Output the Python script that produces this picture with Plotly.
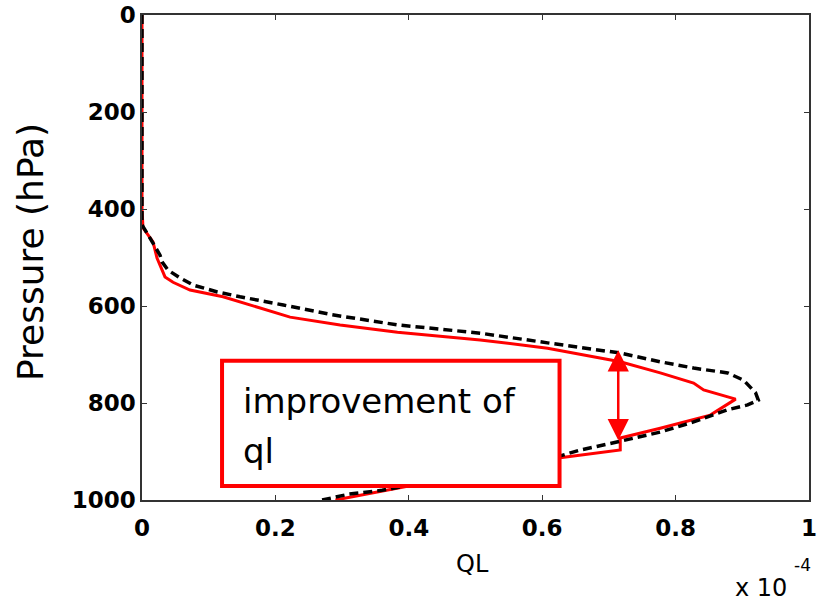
import plotly.graph_objects as go

# Liquid water content profiles (units of 1e-4)
p_ref = [0, 100, 200, 300, 400, 433, 460, 495, 509, 526, 542, 557, 571, 581, 598, 618,
         639, 656, 676, 697, 715, 728, 738, 753, 779, 794, 804, 814, 839, 860, 882, 897,
         909, 945, 980, 988, 1000]
ql_ref = [0, 0, 0, 0, 0, 0, 0.012, 0.027, 0.030, 0.039, 0.057, 0.077, 0.113, 0.147, 0.212, 0.285,
          0.383, 0.507, 0.608, 0.717, 0.777, 0.827, 0.878, 0.902, 0.920, 0.924, 0.908, 0.878, 0.827, 0.777, 0.707, 0.657,
          0.627, 0.50, 0.36, 0.31, 0.27]

p_new = [0, 100, 200, 300, 400, 439, 468, 501, 540, 551, 567, 581, 602, 623, 639,
         654, 670, 687, 715, 738, 759, 773, 792, 825, 852, 872, 897, 913,
         945, 980, 990, 1000]
ql_new = [0, 0, 0, 0, 0, 0.0015, 0.0165, 0.0225, 0.0345, 0.0465, 0.072, 0.1215, 0.1725, 0.222, 0.297,
          0.383, 0.507, 0.608, 0.717, 0.777, 0.827, 0.842, 0.89, 0.852, 0.777, 0.717, 0.717, 0.627,
          0.50, 0.37, 0.33, 0.29]

x_ticks = [0, 0.2, 0.4, 0.6, 0.8, 1]
x_tick_text = ["0", "0.2", "0.4", "0.6", "0.8", "1"]
y_ticks = [0, 200, 400, 600, 800, 1000]

fig = go.Figure()
fig.add_trace(go.Scatter(x=ql_new, y=p_new, mode="lines",
                         line=dict(color="#ff0000", width=3), showlegend=False))
fig.add_trace(go.Scatter(x=ql_ref, y=p_ref, mode="lines",
                         line=dict(color="black", width=3.5, dash="9px,5px"), showlegend=False))

tickfont = dict(family="DejaVu Sans", size=23, color="black", weight="bold")
fig.update_xaxes(range=[0, 1], tickvals=x_ticks, ticktext=x_tick_text,
                 ticks="inside", ticklen=5, tickcolor="#333", mirror="ticks",
                 showline=True, linecolor="#333", linewidth=1.5, showgrid=False,
                 zeroline=False, tickfont=tickfont, automargin=False,
                 ticklabelstandoff=7)
fig.update_yaxes(range=[1000, 0], tickvals=y_ticks,
                 ticks="inside", ticklen=5, tickcolor="#333", mirror="ticks",
                 showline=True, linecolor="#333", linewidth=1.5, showgrid=False,
                 zeroline=False, tickfont=tickfont, automargin=False)

fig.add_shape(type="rect", xref="x", yref="y", x0=0.12, x1=0.626, y0=713, y1=971,
              line=dict(color="#ff0000", width=4), fillcolor="white", layer="above")

fig.add_annotation(x=0.148, y=796, xref="x", yref="y", text="improvement of",
                   showarrow=False, xanchor="left", yanchor="middle",
                   font=dict(family="DejaVu Sans", size=34, color="black"))
fig.add_annotation(x=0.148, y=899, xref="x", yref="y", text="ql",
                   showarrow=False, xanchor="left", yanchor="middle",
                   font=dict(family="DejaVu Sans", size=34, color="black"))

fig.add_annotation(x=0.714, y=691, ax=0.714, ay=880, xref="x", yref="y",
                   axref="x", ayref="y", text="", showarrow=True,
                   arrowhead=2, startarrowhead=2, arrowside="end+start",
                   arrowsize=1.7, startarrowsize=1.7, arrowwidth=2.5, arrowcolor="#ff0000")

fig.add_annotation(x=-0.168, y=0.511, xref="paper", yref="paper", text="Pressure (hPa)",
                   textangle=-90, showarrow=False, xanchor="center", yanchor="middle",
                   font=dict(family="DejaVu Sans", size=36, color="black"))
fig.add_annotation(x=0.495, y=-0.132, xref="paper", yref="paper", text="QL",
                   showarrow=False, xanchor="center", yanchor="middle",
                   font=dict(family="DejaVu Sans", size=24, color="black"))
fig.add_annotation(x=0.97, y=-0.182, xref="paper", yref="paper", text="x 10",
                   showarrow=False, xanchor="right", yanchor="middle",
                   font=dict(family="DejaVu Sans", size=24, color="black"))
fig.add_annotation(x=1.006, y=-0.133, xref="paper", yref="paper", text="-4",
                   showarrow=False, xanchor="right", yanchor="middle",
                   font=dict(family="DejaVu Sans", size=17, color="black"))

fig.update_layout(width=819, height=606, margin=dict(l=142, r=10, t=15, b=106, autoexpand=False),
                  plot_bgcolor="white", paper_bgcolor="white")
fig.write_html("out.html")
